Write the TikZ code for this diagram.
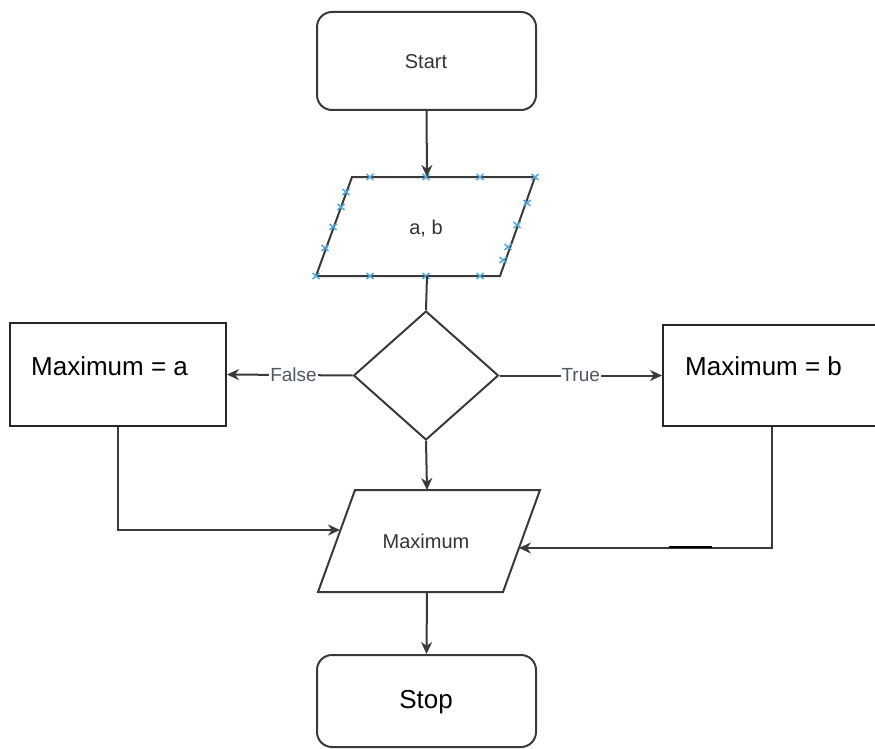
\documentclass[tikz,border=0pt]{standalone}
\usepackage{fontspec}
\setmainfont{Liberation Sans}
\usetikzlibrary{shapes.geometric,arrows.meta}
\definecolor{linegray}{HTML}{3A3A3A}
\definecolor{labelgray}{HTML}{4E5866}
\definecolor{handle}{HTML}{4FA8E0}
\tikzset{
  flow/.style={draw=linegray, line width=2pt},
  arr/.style={flow, -{Stealth[length=12pt,width=11pt]}},
  term/.style={draw=linegray, line width=2pt, rounded corners=15pt, rectangle, inner sep=0pt},
  procbox/.style={draw=black!85, line width=2pt, rectangle, inner sep=0pt},
  decision/.style={draw=linegray, line width=2pt, diamond, inner sep=0pt},
  smalltext/.style={text=black!80, font=\fontsize{20}{24}\selectfont},
  bigtext/.style={text=black, font=\fontsize{26}{30}\selectfont},
  edgelabel/.style={text=labelgray, font=\fontsize{19}{22}\selectfont, fill=white, inner sep=1pt},
  handlecross/.style={draw=handle, line width=1.5pt},
}
\begin{document}
\begin{tikzpicture}[x=1pt, y=-1pt]
\useasboundingbox (0,0) rectangle (875,749);

% Terminals
\node[term, minimum width=219pt, minimum height=98pt] (start) at (426.5,61) {};
\node[smalltext] (starttext) at (426,62) {Start};
\node[term, minimum width=219pt, minimum height=92pt] (stop) at (426.5,701) {};
\node[bigtext] (stoptext) at (426,702) {Stop};

% Input parallelogram
\coordinate (in1) at (352,177);
\coordinate (in2) at (535,177);
\coordinate (in3) at (500,276);
\coordinate (in4) at (316,276);
\coordinate (inTop) at (427,177);
\coordinate (inBot) at (427,276);
\draw[flow, line join=miter] (in1) -- (in2) -- (in3) -- (in4) -- cycle;
\node[smalltext] (abtext) at (426,229) {a, b};

% Decision
\node[decision, minimum width=145pt, minimum height=129pt, aspect=1.12] (dec) at (426,375.5) {};

% Outcome boxes
\node[procbox, minimum width=216pt, minimum height=103pt] (boxa) at (118,374.5) {};
\node[bigtext, anchor=west, inner sep=0pt] (atext) at (31,366) {Maximum = a};
\node[procbox, minimum width=218pt, minimum height=101pt] (boxb) at (772,375.5) {};
\node[bigtext, anchor=west, inner sep=0pt] (btext) at (685,366) {Maximum = b};

% Output parallelogram
\coordinate (out1) at (355,490);
\coordinate (out2) at (540,490);
\coordinate (out3) at (503,592);
\coordinate (out4) at (318,592);
\coordinate (outTop) at (427,490);
\coordinate (outBot) at (427,592);
\coordinate (outL) at (340,530);
\coordinate (outR) at (519,548);
\draw[flow, line join=miter] (out1) -- (out2) -- (out3) -- (out4) -- cycle;
\node[smalltext] (maxtext) at (426,541) {Maximum};

% Selection handles on the input shape
\foreach \hx/\hy in {370/177,426/177,480/177,535/177,
                     316/276,370/276,426/276,480/276,
                     346/192,341/207,333/227,325/248,
                     527/203,517/225,508/247,503/260}
  {\draw[handlecross] (\hx-3.5,\hy-3) -- (\hx+3.5,\hy+3) (\hx-3.5,\hy+3) -- (\hx+3.5,\hy-3);}

% Connectors
\draw[arr] (start.south) -- (inTop);
\draw[flow] (inBot) -- (dec.north);
\draw[arr] (dec.west) -- node[edgelabel, pos=0.47] (lfalse) {False} (boxa.east);
\draw[arr] (dec.east) -- node[edgelabel, pos=0.5] (ltrue) {True} (boxb.west);
\draw[arr] (dec.south) -- (outTop);
\draw[arr] (boxa.south) |- (outL);
\draw[arr] (boxb.south) |- (outR);
\draw[arr] (outBot) -- (stop.north);

% Short dark stroke on the right return line
\coordinate (dashA) at (669,547);
\coordinate (dashB) at (712,547);
\draw[black, line width=2.8pt] (dashA) -- (dashB);
\end{tikzpicture}
\end{document}
